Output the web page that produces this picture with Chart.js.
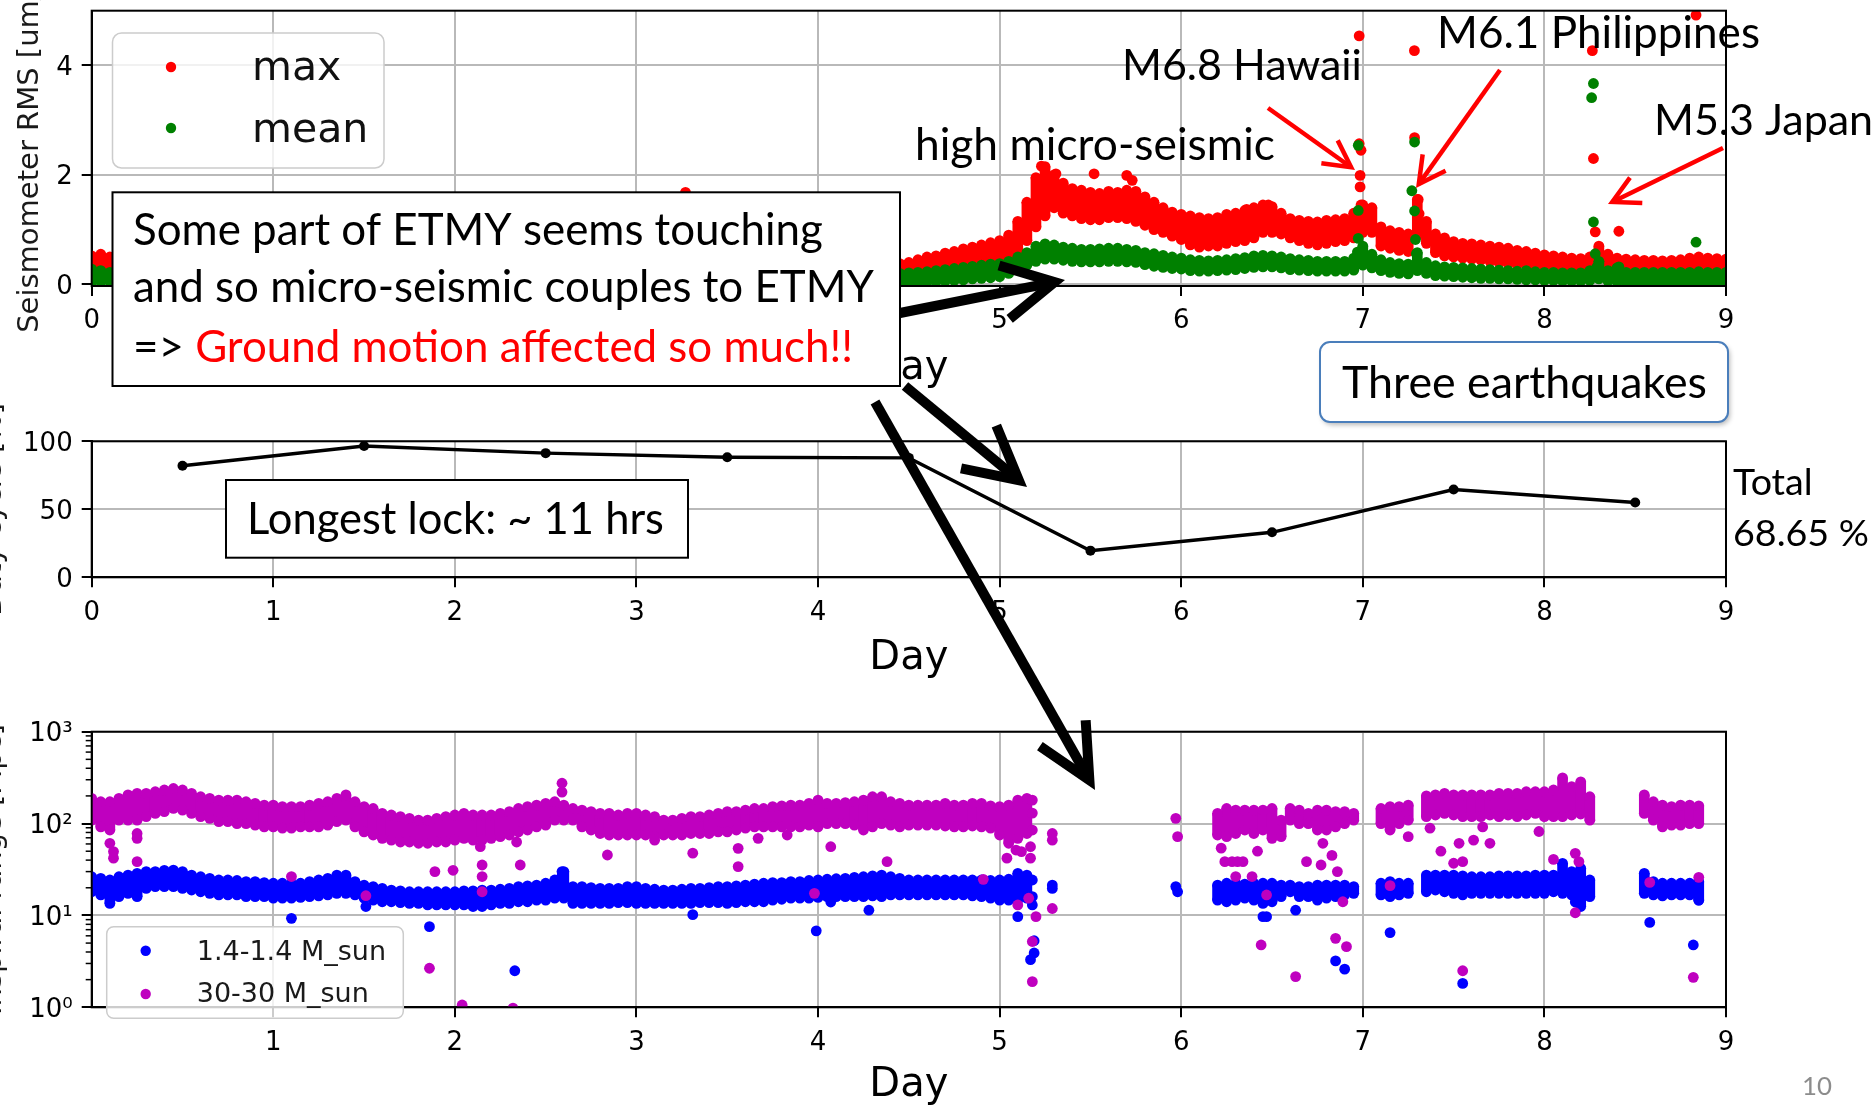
<!DOCTYPE html>
<html lang="en">
<head>
<meta charset="utf-8">
<script src="https://cdn.jsdelivr.net/npm/chart.js@4.4.0/dist/chart.umd.min.js"></script>
<style>
  html, body { margin: 0; padding: 0; background: #fff; overflow: hidden; }
  #slide { position: relative; width: 1872px; height: 1105px; background: #fff; }
  #slide canvas { position: absolute; left: 0; top: 0; }
</style>
</head>
<body>
<div id="slide">
  <canvas id="seismic" width="1872" height="1105"></canvas>
  <canvas id="duty" width="1872" height="1105"></canvas>
  <canvas id="range" width="1872" height="1105"></canvas>
</div>
<script>
// ---------------------------------------------------------------------------
// Data
// ---------------------------------------------------------------------------
const dayTicks = [0, 1, 2, 3, 4, 5, 6, 7, 8, 9];
const sampleStep = 0.05;                       // days between band samples

// Seismometer RMS [um/s]: spread of each sample (low / high edge of the dots)
const seismicSegments = [[0, 9]];
const maxLo = [0.22,0.25,0.24,0.22,0.22,0.20,
  0.20,0.21,0.20,0.19,0.20,0.21,0.22,0.22,0.21,0.20,
  0.20,0.19,0.19,0.20,0.21,0.22,0.23,0.22,0.21,0.20,
  0.19,0.18,0.18,0.19,0.20,0.20,0.21,0.20,0.19,0.18,
  0.18,0.19,0.20,0.20,0.19,0.18,0.18,0.19,0.20,0.21,
  0.21,0.20,0.19,0.19,0.20,0.21,0.22,0.21,0.20,0.19,
  0.19,0.20,0.21,0.22,0.22,0.21,0.20,0.19,0.19,0.20,
  0.21,0.22,0.22,0.21,0.20,0.20,0.21,0.22,0.23,0.22,
  0.21,0.20,0.20,0.21,0.22,0.22,0.21,0.20,0.20,0.20,
  0.20,0.20,0.20,
  0.20,0.20,0.22,0.23,0.25,0.27,0.30,0.32,0.35,0.38,0.42,0.45,
  0.50,0.62,0.80,1.05,1.25,1.40,1.30,1.25,1.20,1.18,
  1.18,1.22,1.22,1.20,1.15,1.08,1.00,0.95,0.88,0.82,
  0.72,0.68,0.70,0.70,0.75,0.78,0.80,0.85,0.95,0.95,
  0.92,0.85,0.80,0.75,0.72,0.75,0.78,0.80,0.85,0.95,
  0.95,0.70,0.66,0.62,0.60,0.90,0.75,0.58,0.52,0.50,
  0.48,0.46,0.44,0.42,0.40,0.38,0.36,0.35,0.34,0.33,
  0.32,0.31,0.30,0.30,0.30,0.35,0.30,0.28,0.26,0.25,
  0.24,0.23,0.23,0.24,0.24,0.25,0.26,0.26,0.25,0.25];
const maxHi = [0.52,0.55,0.50,0.48,0.46,0.45,
  0.45,0.46,0.44,0.43,0.45,0.47,0.48,0.47,0.46,0.44,
  0.44,0.43,0.43,0.45,0.47,0.49,0.50,0.48,0.46,0.44,
  0.42,0.41,0.41,0.43,0.44,0.45,0.46,0.44,0.42,0.41,
  0.41,0.43,0.45,0.45,0.43,0.41,0.41,0.42,0.44,0.46,
  0.46,0.44,0.42,0.42,0.44,0.46,0.48,0.46,0.44,0.42,
  0.42,0.44,0.46,0.48,0.48,0.46,0.44,0.42,0.42,0.44,
  0.46,0.48,0.48,0.46,0.44,0.44,0.46,0.48,0.50,0.48,
  0.46,0.44,0.42,0.42,0.40,0.38,0.37,0.36,0.36,0.37,
  0.37,0.38,0.38,
  0.38,0.40,0.45,0.50,0.52,0.57,0.60,0.65,0.68,0.72,0.76,0.80,
  0.90,1.15,1.50,1.95,2.15,2.00,1.85,1.75,1.72,1.68,
  1.66,1.70,1.68,1.72,1.70,1.60,1.50,1.40,1.32,1.28,
  1.25,1.22,1.20,1.22,1.28,1.30,1.35,1.40,1.45,1.42,
  1.30,1.20,1.17,1.15,1.14,1.17,1.18,1.20,1.30,1.45,
  1.40,1.05,0.98,0.95,0.92,1.55,1.15,0.92,0.85,0.78,
  0.75,0.74,0.72,0.70,0.68,0.66,0.62,0.60,0.57,0.54,
  0.52,0.50,0.48,0.47,0.50,0.70,0.55,0.48,0.46,0.45,
  0.44,0.44,0.43,0.44,0.45,0.48,0.50,0.48,0.47,0.46];
const meanLo = [0.05,0.05,0.05,0.05,0.04,0.04,
  0.04,0.05,0.05,0.04,0.04,0.05,0.06,0.05,0.05,0.04,
  0.04,0.04,0.05,0.05,0.06,0.06,0.05,0.05,0.04,0.04,
  0.04,0.03,0.03,0.04,0.04,0.05,0.05,0.04,0.04,0.03,
  0.03,0.04,0.04,0.05,0.04,0.04,0.03,0.04,0.04,0.05,
  0.05,0.04,0.04,0.04,0.05,0.05,0.06,0.05,0.04,0.04,
  0.04,0.05,0.05,0.06,0.06,0.05,0.05,0.04,0.04,0.05,
  0.05,0.06,0.06,0.05,0.05,0.05,0.05,0.06,0.06,0.05,
  0.05,0.04,0.04,0.04,0.04,0.03,0.03,0.03,0.03,0.02,
  0.02,0.02,0.02,
  0.02,0.03,0.03,0.04,0.05,0.06,0.07,0.08,0.10,0.11,0.12,0.14,
  0.20,0.28,0.35,0.42,0.46,0.46,0.44,0.42,0.41,0.41,
  0.41,0.42,0.42,0.41,0.40,0.36,0.33,0.31,0.29,0.28,
  0.25,0.24,0.24,0.25,0.26,0.27,0.29,0.31,0.32,0.32,
  0.30,0.27,0.26,0.25,0.24,0.24,0.24,0.24,0.26,0.35,
  0.30,0.25,0.22,0.20,0.19,0.25,0.20,0.16,0.15,0.14,
  0.13,0.12,0.11,0.11,0.10,0.10,0.09,0.08,0.08,0.07,
  0.07,0.06,0.06,0.06,0.07,0.10,0.06,0.05,0.03,0.02,
  0.02,0.02,0.02,0.02,0.02,0.02,0.02,0.02,0.02,0.02];
const meanHi = [0.28,0.25,0.22,0.21,0.20,0.20,
  0.20,0.21,0.20,0.19,0.20,0.21,0.22,0.21,0.20,0.19,
  0.19,0.20,0.21,0.22,0.22,0.21,0.20,0.19,0.19,0.20,
  0.19,0.18,0.18,0.19,0.20,0.20,0.21,0.20,0.19,0.18,
  0.18,0.19,0.20,0.21,0.20,0.19,0.18,0.19,0.20,0.21,
  0.21,0.20,0.19,0.19,0.20,0.21,0.22,0.21,0.20,0.19,
  0.19,0.20,0.21,0.22,0.22,0.21,0.20,0.19,0.20,0.21,
  0.21,0.22,0.22,0.21,0.20,0.20,0.21,0.22,0.22,0.21,
  0.21,0.20,0.20,0.20,0.20,0.20,0.20,0.20,0.20,0.20,
  0.20,0.20,0.20,
  0.20,0.21,0.22,0.23,0.25,0.27,0.29,0.31,0.33,0.35,0.37,0.38,
  0.42,0.50,0.58,0.70,0.74,0.72,0.68,0.66,0.64,0.64,
  0.65,0.66,0.66,0.64,0.62,0.58,0.56,0.53,0.50,0.48,
  0.45,0.44,0.43,0.44,0.45,0.47,0.49,0.52,0.53,0.52,
  0.50,0.47,0.45,0.44,0.42,0.42,0.42,0.42,0.48,0.70,
  0.55,0.45,0.40,0.38,0.37,0.58,0.40,0.34,0.32,0.31,
  0.30,0.29,0.28,0.27,0.26,0.25,0.24,0.25,0.23,0.22,
  0.22,0.21,0.21,0.21,0.25,0.42,0.25,0.30,0.22,0.22,
  0.22,0.22,0.22,0.22,0.22,0.22,0.23,0.22,0.22,0.22];
// isolated samples [day, value]
const maxSpikes = [[3.27,1.68],[5.23,2.16],[5.31,2.02],[5.52,2.02],[5.70,1.99],[5.73,1.90],
  [6.36,1.37],[6.48,1.45],[6.98,4.54],[6.98,2.57],[6.99,2.45],[6.985,1.99],[6.985,1.78],
  [6.99,1.45],[7.284,4.27],[7.285,2.68],[7.305,1.55],[7.31,1.29],[8.264,4.27],[8.27,2.30],
  [8.28,0.96],[8.41,0.97],[8.835,4.92]];
const meanSpikes = [[6.975,2.54],[6.975,1.35],[6.975,0.84],[6.97,0.59],[7.285,2.60],[7.27,1.71],
  [7.285,1.34],[7.29,0.82],[7.295,0.56],[8.27,3.67],[8.26,3.41],[8.27,1.14],[8.28,0.56],
  [8.29,0.32],[8.41,0.32],[8.835,0.77]];

// Daily duty cycle [%]
const dutyDays = [0.5, 1.5, 2.5, 3.5, 4.5, 5.5, 6.5, 7.5, 8.5];
const dutyPct  = [82, 96.5, 91.3, 88.3, 87.8, 19.6, 33.1, 64.5, 55.0];
const dutyTotal = '68.65 %';

// Inspiral range [Mpc], sampled while locked
const rangeSegments = [[0, 5.15], [6.2, 6.95], [7.1, 7.25], [7.35, 8.25], [8.55, 8.85]];
const bnsLo = [18.1,16.7,13.5,16.0,17.4,16.0,19.7,20.6,20.6,20.6,
  19.7,18.9,18.1,17.4,16.7,16.7,16.7,16.0,16.0,16.0,
  15.4,15.4,15.4,15.7,16.0,16.3,16.7,17.4,17.4,16.7,
  15.4,14.7,14.1,14.1,13.8,13.5,13.5,13.0,13.0,13.0,
  13.0,13.0,12.5,12.5,13.0,13.5,13.5,14.1,14.1,14.7,
  14.7,15.4,15.4,13.5,13.5,13.5,13.5,13.5,13.8,13.8,
  13.5,13.5,13.5,13.5,13.5,13.5,13.5,13.8,13.8,13.8,
  13.5,13.8,14.1,14.1,14.1,14.7,15.0,15.4,15.4,15.4,
  15.7,16.0,16.0,16.0,16.0,16.0,16.3,16.0,16.7,16.7,
  16.7,16.7,16.7,16.7,16.7,16.7,16.7,16.3,16.0,15.4,
  14.7,14.7,14.7,15.4,
  14.7,14.1,14.7,15.4,14.7,13.5,14.1,16.0,18.1,16.0,16.0,14.7,15.4,16.0,16.7,17.4,
  16.7,16.0,16.7,17.4,
  18.1,18.9,18.1,17.4,16.7,17.4,17.4,17.4,17.4,17.4,17.4,17.4,17.4,17.4,18.1,17.4,16.7,12.5,16.0,
  17.4,16.7,16.3,16.7,16.7,16.7,14.7];
const bnsHi = [26.4,25.3,24.3,26.4,27.5,28.7,30.0,30.0,31.0,31.2,
  30.0,27.5,26.4,25.3,24.3,24.3,24.0,23.3,23.3,22.8,
  22.4,22.4,22.4,22.4,23.3,24.3,25.3,27.5,27.5,23.3,
  21.4,20.6,19.7,18.9,18.5,18.1,18.1,18.1,18.1,18.1,
  18.1,18.5,18.5,18.9,18.9,19.3,19.7,20.6,21.0,21.4,
  22.4,24.3,30.0,20.6,20.6,20.1,19.7,19.7,19.7,20.6,
  20.6,19.7,19.3,18.9,18.9,19.3,19.7,19.7,20.1,20.6,
  20.6,21.0,21.4,21.9,22.4,22.8,22.8,23.3,23.3,24.0,
  24.3,24.8,25.1,25.3,26.0,26.4,27.0,27.5,26.4,25.3,
  24.3,24.3,24.3,24.3,24.3,24.3,24.3,24.3,24.3,24.0,
  24.3,24.8,28.7,27.5,
  21.4,22.4,22.4,21.9,22.4,22.4,22.4,21.4,21.4,20.6,20.6,21.4,21.4,21.4,21.4,20.6,
  22.4,23.3,22.4,22.4,
  27.5,27.5,27.5,27.5,27.0,26.4,26.4,26.4,27.0,27.0,27.0,27.0,27.5,27.5,27.5,36.9,30.0,32.5,24.3,
  28.7,23.3,22.4,22.4,22.4,22.4,23.3];
const bbhLo = [109,92,85,109,109,109,119,129,135,146,
  140,129,119,114,105,105,100,100,96,92,
  92,89,89,92,92,92,96,105,109,92,
  81,75,69,66,63,63,61,61,63,63,
  66,69,66,66,69,72,75,81,85,92,
  96,109,109,109,92,85,78,75,75,75,
  75,75,72,75,75,75,78,78,78,81,
  81,85,89,92,92,92,92,92,92,96,
  92,100,100,100,96,85,92,100,96,92,
  96,96,96,96,94,92,92,94,92,89,
  75,61,69,78,
  75,72,78,85,78,85,69,72,109,100,100,85,85,92,100,109,
  100,85,100,109,
  119,124,129,124,119,119,119,124,119,124,119,124,129,119,119,119,124,127,109,
  129,109,92,96,96,100,100];
const bbhHi = [188,173,173,188,205,213,213,222,232,241,
  232,213,196,188,180,180,180,173,166,159,
  159,153,153,153,159,166,173,188,205,173,
  153,146,129,124,119,114,109,109,114,119,
  124,129,124,124,124,129,135,146,153,159,
  166,173,159,146,140,135,129,129,124,129,
  129,124,119,109,109,114,119,119,124,129,
  135,135,140,146,146,153,156,159,159,166,
  180,166,166,169,173,180,196,196,173,166,
  159,159,159,159,166,159,159,166,166,156,
  153,159,180,188,
  129,146,140,140,140,140,146,109,146,140,129,140,140,135,135,129,
  146,153,153,159,
  200,205,213,205,205,205,205,205,213,213,213,222,222,222,232,314,252,285,196,
  205,173,159,153,159,159,156];
const bnsSpikes = [[1.10,9.3],[1.51,12.5],[1.86,7.55],[2.33,2.5],[2.59,30],[2.59,27],[3.31,10.2],
  [3.99,6.8],[4.07,14],[4.28,11.4],[5.10,9.7],[5.18,24.3],[5.18,16],[5.18,13],[5.19,5.3],[5.19,3.9],
  [5.17,3.3],[5.29,21.4],[5.29,19.7],[5.97,20.6],[5.98,18.1],[6.45,9.7],[6.47,9.7],[6.63,11.4],
  [6.85,3.2],[6.90,2.6],[7.15,6.5],[7.55,1.82],[8.17,14],[8.58,8.4],[8.82,4.77],[8.85,14.7]];
const bbhSpikes = [[0.10,61],[0.12,49.5],[0.12,42],[0.25,78],[0.25,69],[0.25,38.5],[1.10,26.5],
  [1.51,16.4],[1.86,2.66],[1.89,30],[1.99,31],[2.04,1.06],[2.14,56],[2.15,35.4],[2.15,26.5],
  [2.15,18.1],[2.32,0.98],[2.34,63],[2.36,35.4],[2.59,275],[2.59,220],[2.84,45.5],[3.10,66],
  [3.31,47.6],[3.56,53.7],[3.56,34],[3.67,69],[3.83,75],[3.98,17.4],[4.07,56],[4.38,38.5],
  [4.91,24.7],[5.04,42],[5.09,51.5],[5.12,49.5],[5.17,56],[5.17,42],[5.18,180],[5.18,130],
  [5.18,85],[5.10,13],[5.16,15.4],[5.20,9.7],[5.18,5.2],[5.18,1.9],[5.29,78],[5.29,66],
  [5.29,11.9],[5.97,114],[5.98,72],[6.22,54],[6.24,38.5],[6.28,38.5],[6.31,38.5],[6.34,38.5],
  [6.30,26.5],[6.39,26.5],[6.42,50],[6.44,4.77],[6.47,16.7],[6.63,2.16],[6.69,38.5],[6.77,35.4],
  [6.78,61],[6.83,45],[6.86,30],[6.85,5.63],[6.89,14.1],[6.91,4.57],[7.15,21.1],[7.25,72],
  [7.37,89],[7.43,50],[7.50,37],[7.53,61],[7.55,38.5],[7.55,2.5],[7.61,66],[7.66,92],[7.70,61],
  [7.97,82],[8.05,40.7],[8.17,47.4],[8.19,38.5],[8.17,10.7],[8.58,22.9],[8.85,26],[8.82,2.12]];
const rangeTickLabels = ['10\u2070', '10\u00B9', '10\u00B2', '10\u00B3'];

// Text on the slide
const seriesNames = ['max', 'mean'];
const rangeNames = ['1.4-1.4 M_sun', '30-30 M_sun'];
const axisTitles = ['Seismometer RMS [um/s]', 'Duty cycle [%]', 'Inspiral range [Mpc]'];
const noteLines = ['Some part of ETMY seems touching', 'and so micro-seismic couples to ETMY'];
const notePrefix = '=> ';
const noteAlert = 'Ground motion affected so much!!';
const lockNote = 'Longest lock: ~ 11 hrs';
const quakeNote = 'Three earthquakes';
const quakeLabels = ['M6.8 Hawaii', 'M6.1 Philippines', 'M5.3 Japan'];
const microNote = 'high micro-seismic';
const totalLabel = 'Total';
const pageNumber = '10';

// ---------------------------------------------------------------------------
// Style
// ---------------------------------------------------------------------------
const RED = '#ff0000', GREEN = '#008000', BLUE = '#0000ff', MAGENTA = '#bf00bf';
const GRID = '#b9b9b9';
const DOT_R = 5.4;
const TICK_FONT = { family: 'DejaVu Sans', size: 26, lineHeight: 1.2 };
const NOTE_FAMILY = 'Lato, "Open Sans", sans-serif';
Chart.defaults.font.family = 'DejaVu Sans';

function makeDays(segments) {
  const out = [];
  segments.forEach(([a, b]) => {
    for (let k = 0; ; k++) {
      const d = Math.round((a + k * sampleStep) * 100) / 100;
      if (d > b + 1e-9) break;
      out.push(d);
    }
  });
  return out;
}

// a band of dots: a filled body between the low and high edge, round dots on both edges
function bandSets(days, lo, hi, spikes, color, order) {
  const body = days.map((d, i) => ({ x: d, y: [lo[i], hi[i]] }));
  const pts = [];
  days.forEach((d, i) => { pts.push({ x: d, y: lo[i] }); pts.push({ x: d, y: hi[i] }); });
  spikes.forEach(([d, v]) => pts.push({ x: d, y: v }));
  return [
    { type: 'bar', data: body, backgroundColor: color, borderWidth: 0, barThickness: 10,
      grouped: false, order: order + 1 },
    { type: 'scatter', data: pts, backgroundColor: color, borderWidth: 0, pointRadius: DOT_R,
      pointBorderWidth: 0, order: order }
  ];
}

function dayAxis(height, titlePad, ticksAt) {
  return {
    type: 'linear', min: 0, max: 9, offset: false,
    afterBuildTicks: s => { s.ticks = ticksAt.map(v => ({ value: v })); },
    afterFit: s => { s.height = height; s.paddingLeft = 0; s.paddingRight = 0; },
    grid: { offset: false, color: GRID, lineWidth: 2, drawTicks: true, tickLength: 10,
            tickColor: '#000', tickWidth: 2 },
    border: { display: true, color: '#000', width: 2 },
    ticks: { color: '#000', font: TICK_FONT, padding: 10, maxRotation: 0, autoSkip: false },
    title: { display: true, text: 'Day', color: '#000',
             font: { family: 'DejaVu Sans', size: 40, lineHeight: 1 },
             padding: { top: 0, bottom: titlePad } }
  };
}

function valueAxis(extra) {
  return Object.assign({
    afterFit: s => { s.width = 91.7; s.paddingTop = 0; s.paddingBottom = 0; },
    grid: { color: GRID, lineWidth: 2, drawTicks: true, tickLength: 10, tickColor: '#000', tickWidth: 2 },
    border: { display: true, color: '#000', width: 2 },
    ticks: { color: '#000', font: TICK_FONT, padding: 9, autoSkip: false, labelOffset: 2.5 }
  }, extra);
}

function drawSpines(chart) {
  const { ctx, chartArea: a } = chart;
  ctx.save();
  ctx.strokeStyle = '#000';
  ctx.lineWidth = 2;
  ctx.strokeRect(a.left, a.top, a.right - a.left, a.bottom - a.top);
  ctx.restore();
}

function roundRectPath(ctx, x, y, w, h, r) {
  ctx.beginPath();
  ctx.moveTo(x + r, y);
  ctx.lineTo(x + w - r, y); ctx.arcTo(x + w, y, x + w, y + r, r);
  ctx.lineTo(x + w, y + h - r); ctx.arcTo(x + w, y + h, x + w - r, y + h, r);
  ctx.lineTo(x + r, y + h); ctx.arcTo(x, y + h, x, y + h - r, r);
  ctx.lineTo(x, y + r); ctx.arcTo(x, y, x + r, y, r);
  ctx.closePath();
}

function legendFrame(ctx, x, y, w, h, r) {
  roundRectPath(ctx, x, y, w, h, r);
  ctx.fillStyle = 'rgba(255,255,255,0.8)';
  ctx.fill();
  ctx.strokeStyle = '#cccccc';
  ctx.lineWidth = 1.5;
  ctx.stroke();
}

function dot(ctx, x, y, r, color) {
  ctx.beginPath();
  ctx.arc(x, y, r, 0, Math.PI * 2);
  ctx.fillStyle = color;
  ctx.fill();
}

function verticalText(ctx, text, baseX, centerY, font) {
  ctx.save();
  ctx.translate(baseX, centerY);
  ctx.rotate(-Math.PI / 2);
  ctx.font = font;
  ctx.fillStyle = '#1a1a1a';
  ctx.textAlign = 'center';
  ctx.textBaseline = 'alphabetic';
  ctx.fillText(text, 0, 0);
  ctx.restore();
}

function fitSize(ctx, text, width) {
  ctx.font = '100px ' + NOTE_FAMILY;
  return 100 * width / ctx.measureText(text).width;
}

function noteBox(ctx, x, y, w, h) {
  ctx.fillStyle = '#fff';
  ctx.fillRect(x, y, w, h);
  ctx.strokeStyle = '#000';
  ctx.lineWidth = 2;
  ctx.strokeRect(x, y, w, h);
}

function arrow(ctx, x1, y1, x2, y2, color, lw, head, angDeg) {
  const a = Math.atan2(y2 - y1, x2 - x1);
  const h = angDeg * Math.PI / 180;
  const back = lw / (2 * Math.sin(h));          // keeps the mitred tip on (x2, y2)
  const tx = x2 - back * Math.cos(a), ty = y2 - back * Math.sin(a);
  ctx.save();
  ctx.strokeStyle = color;
  ctx.lineWidth = lw;
  ctx.lineCap = 'butt';
  ctx.lineJoin = 'miter';
  ctx.miterLimit = 20;
  ctx.beginPath();
  ctx.moveTo(x1, y1);
  ctx.lineTo(tx, ty);
  ctx.stroke();
  ctx.beginPath();
  ctx.moveTo(tx - head * Math.cos(a - h), ty - head * Math.sin(a - h));
  ctx.lineTo(tx, ty);
  ctx.lineTo(tx - head * Math.cos(a + h), ty - head * Math.sin(a + h));
  ctx.stroke();
  ctx.restore();
}

const baseOptions = {
  responsive: false,
  animation: false,
  devicePixelRatio: 1,
  events: [],
  plugins: { legend: { display: false }, tooltip: { enabled: false } }
};

// ---------------------------------------------------------------------------
// Seismometer RMS panel
// ---------------------------------------------------------------------------
const seismicDays = makeDays(seismicSegments);
const seismicExtras = {
  id: 'seismicExtras',
  afterDatasetsDraw(chart) {
    drawSpines(chart);
    const ctx = chart.ctx;
    ctx.save();
    legendFrame(ctx, 112.5, 33, 271.5, 135, 9);
    dot(ctx, 171, 67, 5.2, RED);
    dot(ctx, 171, 128, 5.2, GREEN);
    ctx.font = '41px "DejaVu Sans"';
    ctx.fillStyle = '#111';
    ctx.textAlign = 'left';
    ctx.textBaseline = 'alphabetic';
    ctx.fillText(seriesNames[0], 252, 80);
    ctx.fillText(seriesNames[1], 252, 141.7);
    ctx.restore();
    verticalText(ctx, axisTitles[0], 38, 148.4, '29px "DejaVu Sans"');
  }
};

new Chart(document.getElementById('seismic'), {
  type: 'scatter',
  data: {
    datasets: [
      ...bandSets(seismicDays, maxLo, maxHi, maxSpikes, RED, 3),
      ...bandSets(seismicDays, meanLo, meanHi, meanSpikes, GREEN, 1)
    ]
  },
  options: Object.assign({}, baseOptions, {
    layout: { padding: { left: 0, top: 10.7, right: 146, bottom: 1105 - 286 - 100 } },
    scales: {
      x: dayAxis(100, -3, dayTicks),
      y: valueAxis({
        type: 'linear', min: -0.03, max: 5,
        afterBuildTicks: s => { s.ticks = [0, 2, 4].map(v => ({ value: v })); }
      })
    }
  }),
  plugins: [seismicExtras]
});

// ---------------------------------------------------------------------------
// Duty cycle panel
// ---------------------------------------------------------------------------
const dutyExtras = {
  id: 'dutyExtras',
  afterDatasetsDraw(chart) {
    drawSpines(chart);
    verticalText(chart.ctx, axisTitles[1], 1, 509.3, '29px "DejaVu Sans"');
  }
};

new Chart(document.getElementById('duty'), {
  type: 'scatter',
  data: {
    datasets: [{
      data: dutyDays.map((d, i) => ({ x: d, y: dutyPct[i] })),
      showLine: true,
      borderColor: '#000',
      borderWidth: 3.4,
      backgroundColor: '#000',
      pointRadius: 5,
      pointBorderWidth: 0
    }]
  },
  options: Object.assign({}, baseOptions, {
    layout: { padding: { left: 0, top: 441.3, right: 146, bottom: 1105 - 577.3 - 100 } },
    scales: {
      x: dayAxis(100, -1, dayTicks),
      y: valueAxis({
        type: 'linear', min: 0, max: 100,
        afterBuildTicks: s => { s.ticks = [0, 50, 100].map(v => ({ value: v })); }
      })
    }
  }),
  plugins: [dutyExtras]
});

// ---------------------------------------------------------------------------
// Inspiral range panel, plus the slide notes on top of everything
// ---------------------------------------------------------------------------
const rangeDays = makeDays(rangeSegments);
const rangeExtras = {
  id: 'rangeExtras',
  afterDatasetsDraw(chart) {
    const ctx = chart.ctx;
    const y = chart.scales.y;
    const left = chart.chartArea.left;
    // minor ticks of the log axis
    ctx.save();
    ctx.strokeStyle = '#000';
    ctx.lineWidth = 1.5;
    [1, 10, 100].forEach(dec => {
      for (let m = 2; m <= 9; m++) {
        const py = y.getPixelForValue(dec * m);
        ctx.beginPath();
        ctx.moveTo(left - 6, py);
        ctx.lineTo(left, py);
        ctx.stroke();
      }
    });
    ctx.restore();
    drawSpines(chart);
    ctx.save();
    legendFrame(ctx, 106.7, 926.7, 296.6, 91.6, 7);
    dot(ctx, 145.7, 950.7, 5.2, BLUE);
    dot(ctx, 145.7, 994, 5.2, MAGENTA);
    ctx.font = '27px "DejaVu Sans"';
    ctx.fillStyle = '#1a1a1a';
    ctx.textAlign = 'left';
    ctx.textBaseline = 'alphabetic';
    ctx.fillText(rangeNames[0], 196.7, 960);
    ctx.fillText(rangeNames[1], 196.7, 1001.7);
    ctx.restore();
    verticalText(ctx, axisTitles[2], 1, 869.5, '29px "DejaVu Sans"');
  },
  afterDraw(chart) {
    const ctx = chart.ctx;
    ctx.save();
    ctx.textAlign = 'left';
    ctx.textBaseline = 'alphabetic';

    // note on the ETMY coupling
    noteBox(ctx, 112.5, 192.3, 787.5, 193.7);
    const s1 = fitSize(ctx, noteLines[0], 690);
    ctx.font = s1 + 'px ' + NOTE_FAMILY;
    ctx.fillStyle = '#000';
    ctx.fillText(noteLines[0], 133, 245);
    ctx.fillText(noteLines[1], 133, 302);
    ctx.fillText(notePrefix, 133, 362);
    const pw = ctx.measureText(notePrefix).width;
    ctx.fillStyle = RED;
    ctx.fillText(noteAlert, 133 + pw, 362);

    // longest lock
    noteBox(ctx, 226, 480, 462, 77.7);
    ctx.font = fitSize(ctx, lockNote, 417) + 'px ' + NOTE_FAMILY;
    ctx.fillStyle = '#000';
    ctx.fillText(lockNote, 247, 534);

    // three earthquakes
    ctx.save();
    roundRectPath(ctx, 1320, 342, 408, 80, 10);
    ctx.shadowColor = 'rgba(0,0,0,0.28)';
    ctx.shadowBlur = 5;
    ctx.shadowOffsetX = 2;
    ctx.shadowOffsetY = 3;
    ctx.fillStyle = '#fff';
    ctx.fill();
    ctx.restore();
    roundRectPath(ctx, 1320, 342, 408, 80, 10);
    ctx.strokeStyle = '#4a7ebb';
    ctx.lineWidth = 2;
    ctx.stroke();
    ctx.font = fitSize(ctx, quakeNote, 365) + 'px ' + NOTE_FAMILY;
    ctx.fillStyle = '#000';
    ctx.fillText(quakeNote, 1342, 398);

    // total duty cycle
    ctx.font = fitSize(ctx, dutyTotal, 136) + 'px ' + NOTE_FAMILY;
    ctx.fillText(totalLabel, 1733, 495);
    ctx.fillText(dutyTotal, 1733, 546);

    // event labels
    ctx.font = fitSize(ctx, microNote, 360) + 'px ' + NOTE_FAMILY;
    ctx.fillText(microNote, 915, 160);
    const sq = fitSize(ctx, quakeLabels[0], 240);
    ctx.font = sq + 'px ' + NOTE_FAMILY;
    ctx.fillText(quakeLabels[0], 1122, 80);
    ctx.fillText(quakeLabels[2], 1654, 135);
    ctx.font = fitSize(ctx, quakeLabels[1], 323) + 'px ' + NOTE_FAMILY;
    ctx.fillText(quakeLabels[1], 1437, 48.3);

    // page number
    ctx.font = fitSize(ctx, pageNumber, 30) + 'px ' + NOTE_FAMILY;
    ctx.fillStyle = '#8c8c8c';
    ctx.fillText(pageNumber, 1802, 1095);
    ctx.restore();

    // red pointers to the earthquakes
    arrow(ctx, 1268, 108, 1355, 170, RED, 4.5, 30, 28);
    arrow(ctx, 1500, 70, 1416, 188, RED, 4.5, 30, 28);
    arrow(ctx, 1723, 148, 1608, 204, RED, 4.5, 30, 28);

    // black arrows from the note to each panel
    arrow(ctx, 900, 313, 1065, 280, '#000', 10, 58, 28);
    arrow(ctx, 905, 386, 1027, 487, '#000', 10, 59, 28);
    arrow(ctx, 875, 402, 1095, 790, '#000', 10, 60, 26);
  }
};

new Chart(document.getElementById('range'), {
  type: 'scatter',
  data: {
    datasets: [
      ...bandSets(rangeDays, bnsLo, bnsHi, bnsSpikes, BLUE, 3),
      ...bandSets(rangeDays, bbhLo, bbhHi, bbhSpikes, MAGENTA, 1)
    ]
  },
  options: Object.assign({}, baseOptions, {
    layout: { padding: { left: 0, top: 731.7, right: 146, bottom: 1105 - 1007.3 - 95 } },
    scales: {
      x: dayAxis(95, -3, dayTicks.slice(1)),
      y: valueAxis({
        type: 'logarithmic', min: 1, max: 1000,
        afterBuildTicks: s => { s.ticks = [1, 10, 100, 1000].map(v => ({ value: v })); },
        ticks: {
          color: '#000', font: TICK_FONT, padding: 9, autoSkip: false, labelOffset: 2.5,
          callback: v => rangeTickLabels[Math.round(Math.log10(v))]
        }
      })
    }
  }),
  plugins: [rangeExtras]
});
</script>
</body>
</html>
